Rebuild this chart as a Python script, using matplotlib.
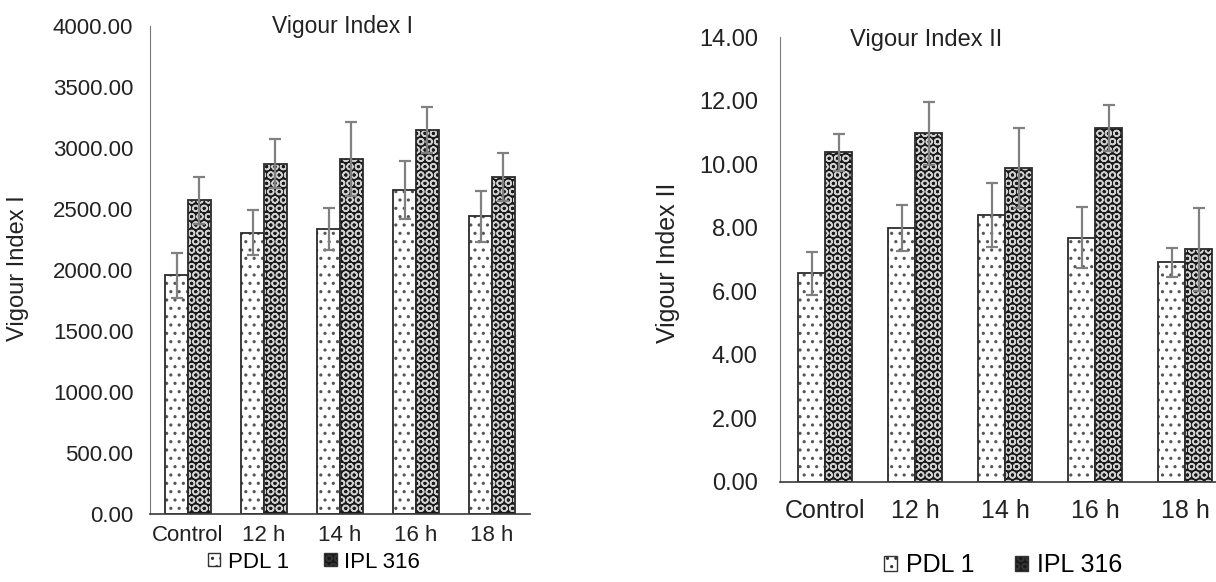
import matplotlib
matplotlib.use("Agg")
import matplotlib.pyplot as plt
import numpy as np
from matplotlib.patches import Patch

plt.rcParams["font.family"] = ["Liberation Sans", "DejaVu Sans"]
plt.rcParams["hatch.linewidth"] = 1.1

groups = ["Control", "12 h", "14 h", "16 h", "18 h"]
series = ["PDL 1", "IPL 316"]

# Vigour Index I
vi1_pdl = [1955, 2305, 2335, 2655, 2440]
vi1_pdl_err = [185, 183, 170, 240, 210]
vi1_ipl = [2570, 2870, 2910, 3150, 2760]
vi1_ipl_err = [190, 200, 300, 190, 195]

# Vigour Index II
vi2_pdl = [6.57, 8.00, 8.40, 7.69, 6.91]
vi2_pdl_err = [0.68, 0.72, 1.00, 0.95, 0.45]
vi2_ipl = [10.37, 10.97, 9.88, 11.14, 7.32]
vi2_ipl_err = [0.58, 1.00, 1.26, 0.72, 1.30]

W, H = 1216, 582
fig = plt.figure(figsize=(W / 100, H / 100), dpi=100)
txt = "#222222"
err_kw = dict(ecolor="#808080", elinewidth=1.6, capsize=4, capthick=1.6)


def draw_bars(ax, pdl, pdl_err, ipl, ipl_err):
    x = np.arange(len(groups))
    w = 0.3
    # PDL 1: white with sparse dots
    ax.bar(x - w / 2, pdl, w, color="white", edgecolor="#555555", hatch="..", linewidth=0)
    ax.bar(x - w / 2, pdl, w, fill=False, edgecolor="#2b2b2b", linewidth=1.3)
    # IPL 316: dark with light rings
    ax.bar(x + w / 2, ipl, w, color="#1a1a1a", linewidth=0)
    ax.bar(x + w / 2, ipl, w, fill=False, edgecolor="#d0d0d0", hatch="OO", linewidth=0)
    ax.bar(x + w / 2, ipl, w, fill=False, edgecolor="#2b2b2b", linewidth=1.3)
    ax.errorbar(x - w / 2, pdl, yerr=pdl_err, fmt="none", **err_kw)
    ax.errorbar(x + w / 2, ipl, yerr=ipl_err, fmt="none", **err_kw)
    ax.set_xticks(x)
    ax.set_xticklabels(groups)
    ax.set_xlim(-0.5, len(groups) - 0.5)
    for s in ["top", "right"]:
        ax.spines[s].set_visible(False)
    ax.spines["left"].set_color("#7a7a7a")
    ax.spines["bottom"].set_color("#3a3a3a")
    ax.spines["bottom"].set_linewidth(1.2)
    ax.tick_params(length=0, colors=txt)


# left panel
ax1 = fig.add_axes([150 / W, 1 - 514 / H, 380 / W, 488 / H])
draw_bars(ax1, vi1_pdl, vi1_pdl_err, vi1_ipl, vi1_ipl_err)
ax1.set_ylim(0, 4000)
ax1.set_yticks(np.arange(0, 4001, 500))
ax1.set_yticklabels([f"{v:.2f}" for v in np.arange(0, 4001, 500)])
ax1.tick_params(axis="y", labelsize=16, pad=12)
ax1.tick_params(axis="x", labelsize=16, pad=8)
fig.text(18 / W, 1 - 268 / H, "Vigour Index I", rotation=90, ha="center", va="center",
         fontsize=17, color=txt)
fig.text(342 / W, 1 - 27 / H, "Vigour Index I", ha="center", va="center", fontsize=16.5, color=txt)

# right panel (runs past the right edge, as in the source)
ax2 = fig.add_axes([780 / W, 1 - 482 / H, 450 / W, 445 / H])
draw_bars(ax2, vi2_pdl, vi2_pdl_err, vi2_ipl, vi2_ipl_err)
ax2.set_ylim(0, 14)
ax2.set_yticks(np.arange(0, 15, 2))
ax2.set_yticklabels([f"{v:.2f}" for v in np.arange(0, 15, 2)])
ax2.tick_params(axis="y", labelsize=17, pad=16)
ax2.tick_params(axis="x", labelsize=18, pad=12)
fig.text(668 / W, 1 - 263 / H, "Vigour Index II", rotation=90, ha="center", va="center",
         fontsize=18, color=txt)
fig.text(926 / W, 1 - 40 / H, "Vigour Index II", ha="center", va="center", fontsize=17, color=txt)

# legends
handles = [
    Patch(facecolor="white", edgecolor="#333333", hatch="..", linewidth=1.0),
    Patch(facecolor="#1a1a1a", edgecolor="#333333", hatch="OO", linewidth=1.0),
]
fig.legend(handles, series, loc="center", bbox_to_anchor=(314 / W, 1 - 562 / H), ncol=2,
           frameon=False, fontsize=16, handlelength=0.55, handleheight=0.55,
           handletextpad=0.35, columnspacing=1.6)
fig.legend(handles, series, loc="center", bbox_to_anchor=(1003 / W, 1 - 565 / H), ncol=2,
           frameon=False, fontsize=18, handlelength=0.55, handleheight=0.55,
           handletextpad=0.35, columnspacing=1.6)

fig.savefig("out.png", dpi=100)
